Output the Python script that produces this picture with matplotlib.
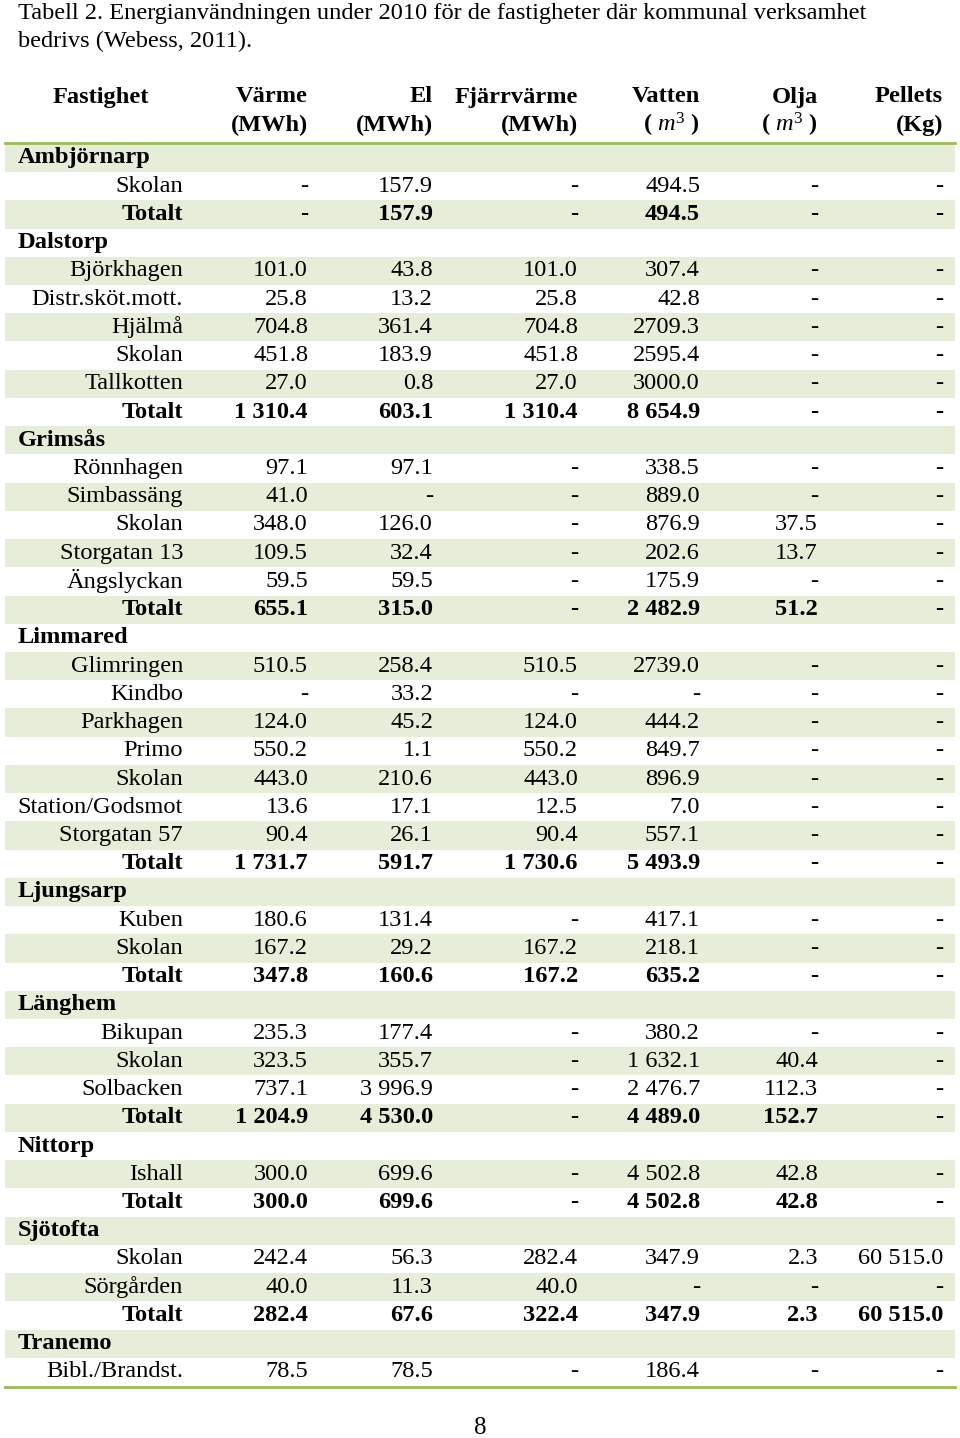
import matplotlib
matplotlib.use("Agg")
import matplotlib.pyplot as plt
from matplotlib.patches import Rectangle

# Table content
title_lines = [
    "Tabell 2. Energianvändningen under 2010 för de fastigheter där kommunal verksamhet",
    "bedrivs (Webess, 2011).",
]
headers_top = ["Fastighet", "Värme", "El", "Fjärrvärme", "Vatten", "Olja", "Pellets"]
headers_bot = ["", "(MWh)", "(MWh)", "(MWh)", "( $\\mathit{m}^3$ )", "( $\\mathit{m}^3$ )", "(Kg)"]

# (label, kind): kind g = group heading, i = item, t = total
rows = [
    ("Ambjörnarp", "g"), ("Skolan", "i"), ("Totalt", "t"),
    ("Dalstorp", "g"), ("Björkhagen", "i"), ("Distr.sköt.mott.", "i"), ("Hjälmå", "i"),
    ("Skolan", "i"), ("Tallkotten", "i"), ("Totalt", "t"),
    ("Grimsås", "g"), ("Rönnhagen", "i"), ("Simbassäng", "i"), ("Skolan", "i"),
    ("Storgatan 13", "i"), ("Ängslyckan", "i"), ("Totalt", "t"),
    ("Limmared", "g"), ("Glimringen", "i"), ("Kindbo", "i"), ("Parkhagen", "i"),
    ("Primo", "i"), ("Skolan", "i"), ("Station/Godsmot", "i"), ("Storgatan 57", "i"), ("Totalt", "t"),
    ("Ljungsarp", "g"), ("Kuben", "i"), ("Skolan", "i"), ("Totalt", "t"),
    ("Länghem", "g"), ("Bikupan", "i"), ("Skolan", "i"), ("Solbacken", "i"), ("Totalt", "t"),
    ("Nittorp", "g"), ("Ishall", "i"), ("Totalt", "t"),
    ("Sjötofta", "g"), ("Skolan", "i"), ("Sörgården", "i"), ("Totalt", "t"),
    ("Tranemo", "g"), ("Bibl./Brandst.", "i"),
]

# values for item/total rows only, in order
varme = ["-", "-",
         "101.0", "25.8", "704.8", "451.8", "27.0", "1 310.4",
         "97.1", "41.0", "348.0", "109.5", "59.5", "655.1",
         "510.5", "-", "124.0", "550.2", "443.0", "13.6", "90.4", "1 731.7",
         "180.6", "167.2", "347.8",
         "235.3", "323.5", "737.1", "1 204.9",
         "300.0", "300.0",
         "242.4", "40.0", "282.4",
         "78.5"]
el = ["157.9", "157.9",
      "43.8", "13.2", "361.4", "183.9", "0.8", "603.1",
      "97.1", "-", "126.0", "32.4", "59.5", "315.0",
      "258.4", "33.2", "45.2", "1.1", "210.6", "17.1", "26.1", "591.7",
      "131.4", "29.2", "160.6",
      "177.4", "355.7", "3 996.9", "4 530.0",
      "699.6", "699.6",
      "56.3", "11.3", "67.6",
      "78.5"]
fjarrvarme = ["-", "-",
              "101.0", "25.8", "704.8", "451.8", "27.0", "1 310.4",
              "-", "-", "-", "-", "-", "-",
              "510.5", "-", "124.0", "550.2", "443.0", "12.5", "90.4", "1 730.6",
              "-", "167.2", "167.2",
              "-", "-", "-", "-",
              "-", "-",
              "282.4", "40.0", "322.4",
              "-"]
vatten = ["494.5", "494.5",
          "307.4", "42.8", "2709.3", "2595.4", "3000.0", "8 654.9",
          "338.5", "889.0", "876.9", "202.6", "175.9", "2 482.9",
          "2739.0", "-", "444.2", "849.7", "896.9", "7.0", "557.1", "5 493.9",
          "417.1", "218.1", "635.2",
          "380.2", "1 632.1", "2 476.7", "4 489.0",
          "4 502.8", "4 502.8",
          "347.9", "-", "347.9",
          "186.4"]
olja = ["-", "-",
        "-", "-", "-", "-", "-", "-",
        "-", "-", "37.5", "13.7", "-", "51.2",
        "-", "-", "-", "-", "-", "-", "-", "-",
        "-", "-", "-",
        "-", "40.4", "112.3", "152.7",
        "42.8", "42.8",
        "2.3", "-", "2.3",
        "-"]
pellets = ["-", "-",
           "-", "-", "-", "-", "-", "-",
           "-", "-", "-", "-", "-", "-",
           "-", "-", "-", "-", "-", "-", "-", "-",
           "-", "-", "-",
           "-", "-", "-", "-",
           "-", "-",
           "60 515.0", "-", "60 515.0",
           "-"]
columns = [varme, el, fjarrvarme, vatten, olja, pellets]

# layout (pixel coordinates)
W, H = 960, 1438
shade = "#e6edd8"
rule = "#9bbb59"
font = "Liberation Serif"
fs = 17.6
col_right = [308, 433, 578, 700, 818, 943]
name_right = 183
row0, pitch = 158, 28.23

plt.rcParams["mathtext.fontset"] = "custom"
plt.rcParams["mathtext.rm"] = font
plt.rcParams["mathtext.it"] = font + ":italic"
plt.rcParams["mathtext.bf"] = font + ":bold"

fig = plt.figure(figsize=(W / 100, H / 100), dpi=100)
ax = fig.add_axes([0, 0, 1, 1])
ax.set_xlim(0, W)
ax.set_ylim(H, 0)
ax.axis("off")

for k, line in enumerate(title_lines):
    ax.text(18, 13 + 28 * k, line, fontsize=17.6, family=font, ha="left", va="center")

# header
ax.text(101, 97, headers_top[0], fontsize=fs, family=font, weight="bold", ha="center", va="center")
for c, x in enumerate(col_right):
    ax.text(x, 97, headers_top[c + 1], fontsize=fs, family=font, weight="bold", ha="right", va="center")
    ax.text(x, 125, headers_bot[c + 1], fontsize=fs, family=font, weight="bold", ha="right", va="center")

# body
vi = 0
for i, (label, kind) in enumerate(rows):
    yc = row0 + pitch * i
    if i % 2 == 0:
        ax.add_patch(Rectangle((5, yc - pitch / 2), 950, pitch, color=shade, zorder=0, lw=0))
    if kind == "g":
        ax.text(18, yc, label, fontsize=fs, family=font, weight="bold", ha="left", va="center")
        continue
    w = "bold" if kind == "t" else "normal"
    ax.text(name_right, yc, label, fontsize=fs, family=font, weight=w, ha="right", va="center")
    for c, x in enumerate(col_right):
        ax.text(x, yc, columns[c][vi], fontsize=fs, family=font, weight=w, ha="right", va="center")
    vi += 1

ax.plot([5, 955], [row0 - pitch / 2 - 1, row0 - pitch / 2 - 1], color=rule, lw=2)
yb = row0 + pitch * (len(rows) - 1) + pitch / 2 + 1
ax.plot([5, 955], [yb, yb], color=rule, lw=2)

ax.text(480, 1428, "8", fontsize=18, family=font, ha="center", va="center")

fig.savefig("out.png", dpi=100)
